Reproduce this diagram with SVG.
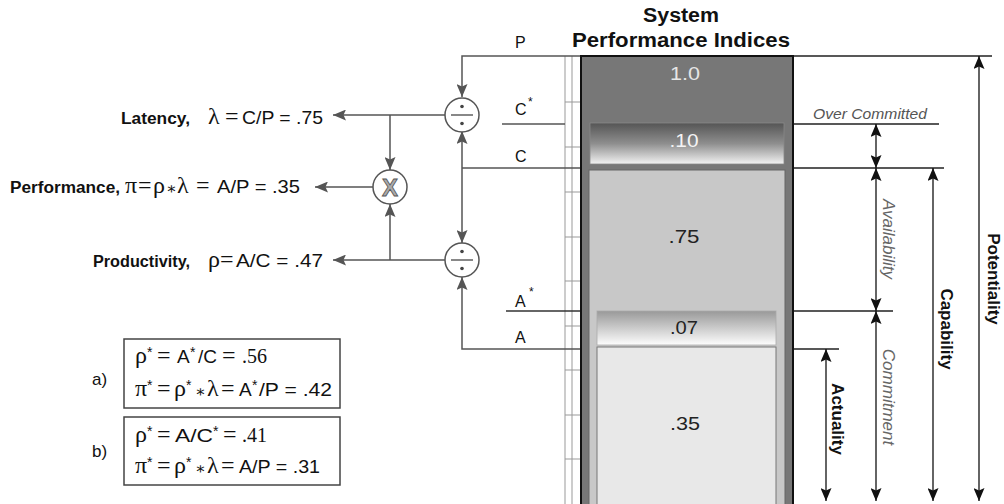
<svg xmlns="http://www.w3.org/2000/svg" width="1004" height="504" viewBox="0 0 1004 504">
<defs>
<style>
.lbl{font-family:"Liberation Sans",Arial,sans-serif;font-weight:bold;font-size:16px;fill:#111}
.eq{font-family:"Liberation Sans",Arial,sans-serif;font-size:19px;fill:#111}
.gr{font-family:"Liberation Serif","Times New Roman",serif;font-size:24px;fill:#111}
.op{font-family:"Liberation Serif","DejaVu Serif","Times New Roman",serif;font-size:16px;fill:#111}
.sup{font-family:"Liberation Sans",Arial,sans-serif;font-size:14px;fill:#111}
.sm{font-family:"Liberation Sans",Arial,sans-serif;font-size:16px;fill:#111}
.conn{fill:none;stroke:#555;stroke-width:1.5}
.dim{fill:none;stroke:#111;stroke-width:1.3}
.ext{fill:none;stroke:#222;stroke-width:1.3}
.node{fill:#fff;stroke:#555;stroke-width:1.5}
.vt{font-family:"Liberation Sans",Arial,sans-serif;font-size:17px;font-weight:bold;fill:#111}
.vi{font-family:"Liberation Sans",Arial,sans-serif;font-size:17px;font-style:italic;fill:#666}
.num{font-family:"Liberation Sans",Arial,sans-serif;font-size:19px;text-anchor:middle}
.ruler{fill:none;stroke:#999;stroke-width:1}
.box{fill:#fff;stroke:#444;stroke-width:1.5}
</style>
<marker id="ag" viewBox="0 0 13 11" refX="13" refY="5.5" markerWidth="13" markerHeight="11" markerUnits="userSpaceOnUse" orient="auto-start-reverse">
<path d="M0,0 L13,5.5 L0,11 L2.5,5.5 z" fill="#555"/>
</marker>
<marker id="ab" viewBox="0 0 13 11" refX="13" refY="5.5" markerWidth="13" markerHeight="11" markerUnits="userSpaceOnUse" orient="auto-start-reverse">
<path d="M0,0 L13,5.5 L0,11 L2.5,5.5 z" fill="#111"/>
</marker>
<linearGradient id="g10" x1="0" y1="0" x2="0" y2="1">
<stop offset="0" stop-color="#555"/>
<stop offset="0.5" stop-color="#8e8e8e"/>
<stop offset="1" stop-color="#f2f2f2"/>
</linearGradient>
<linearGradient id="g07" x1="0" y1="0" x2="0" y2="1">
<stop offset="0" stop-color="#999"/>
<stop offset="1" stop-color="#fdfdfd"/>
</linearGradient>
</defs>

<rect width="1004" height="504" fill="#fff"/>

<!-- Column -->
<g id="column">
<rect x="581" y="56" width="212" height="460" fill="#777" stroke="#111" stroke-width="2"/>
<rect x="590" y="123" width="194" height="41" fill="url(#g10)" stroke="#888" stroke-width="0.8"/>
<rect x="589" y="170" width="196" height="350" fill="#c8c8c8" stroke="#666" stroke-width="1"/>
<rect x="597" y="311" width="179" height="34" fill="url(#g07)" stroke="#aaa" stroke-width="0.8"/>
<rect x="597" y="347" width="179" height="170" fill="#e8e8e8" stroke="#777" stroke-width="1"/>
<text class="num" x="685" y="80" fill="#e6e6e6" textLength="30" lengthAdjust="spacingAndGlyphs">1.0</text>
<text class="num" x="684" y="147" fill="#f4f4f4" textLength="29" lengthAdjust="spacingAndGlyphs">.10</text>
<text class="num" x="684" y="243" fill="#222" textLength="31" lengthAdjust="spacingAndGlyphs">.75</text>
<text class="num" x="684" y="334" fill="#222" textLength="28" lengthAdjust="spacingAndGlyphs">.07</text>
<text class="num" x="685" y="430" fill="#222" textLength="30" lengthAdjust="spacingAndGlyphs">.35</text>
</g>

<!-- Ruler -->
<g id="ruler" class="ruler">
<path d="M565,56 V504 M572,56 V504"/>
<path d="M565,102 H580 M565,147 H580 M565,192 H580 M565,237 H580 M565,281 H580 M565,326 H580 M565,370 H580 M565,415 H580 M565,459 H580"/>
</g>

<!-- Title -->
<g id="title">
<text class="lbl" x="681" y="22" text-anchor="middle" style="font-size:20px" textLength="76" lengthAdjust="spacingAndGlyphs">System</text>
<text class="lbl" x="681" y="47" text-anchor="middle" style="font-size:20px" textLength="218" lengthAdjust="spacingAndGlyphs">Performance Indices</text>
</g>

<!-- Level labels -->
<g id="levels">
<text class="sm" x="515" y="48">P</text>
<text class="sm" x="515" y="115">C</text>
<text class="sup" x="528" y="106" style="font-size:12px">*</text>
<text class="sm" x="515" y="162">C</text>
<text class="sm" x="515" y="307">A</text>
<text class="sup" x="529" y="296" style="font-size:12px">*</text>
<text class="sm" x="515" y="343">A</text>
</g>

<!-- Connectors -->
<g id="connectors">
<path class="conn" d="M580,56 H462 V97" marker-end="url(#ag)"/>
<path class="conn" d="M580,168 H462"/>
<path class="conn" d="M462,168 V131" marker-end="url(#ag)"/>
<path class="conn" d="M462,168 V243" marker-end="url(#ag)"/>
<path class="conn" d="M580,349 H462 V277" marker-end="url(#ag)"/>
<path class="conn" d="M565,124 H502"/>
<path class="conn" d="M580,311 H506" style="stroke:#333"/>
<path class="conn" d="M445,115 H333" marker-end="url(#ag)"/>
<path class="conn" d="M390,115 V170" marker-end="url(#ag)"/>
<path class="conn" d="M373,187 H315" marker-end="url(#ag)"/>
<path class="conn" d="M445,260 H333" marker-end="url(#ag)"/>
<path class="conn" d="M390,260 V204" marker-end="url(#ag)"/>
<path class="ext" d="M794,56 H992 M794,124 H939 M794,168 H944 M794,311 H893 M794,349 H839"/>
<path class="dim" d="M876,124 V168" marker-start="url(#ab)" marker-end="url(#ab)"/>
<path class="dim" d="M876,168 V311" marker-start="url(#ab)" marker-end="url(#ab)"/>
<path class="dim" d="M876,311 V501" marker-start="url(#ab)" marker-end="url(#ab)"/>
<path class="dim" d="M933,168 V501" marker-start="url(#ab)" marker-end="url(#ab)"/>
<path class="dim" d="M979,56 V501" marker-start="url(#ab)" marker-end="url(#ab)"/>
<path class="dim" d="M826,349 V501" marker-start="url(#ab)" marker-end="url(#ab)"/>
</g>

<!-- Operator nodes -->
<g id="div1">
<circle class="node" cx="462" cy="115" r="17"/>
<path d="M451,115 H473" stroke="#555" stroke-width="1.4"/>
<circle cx="462" cy="106.5" r="1.8" fill="#444"/>
<circle cx="462" cy="123.5" r="1.8" fill="#444"/>
</g>
<g id="div2">
<circle class="node" cx="462" cy="260" r="17"/>
<path d="M451,260 H473" stroke="#555" stroke-width="1.4"/>
<circle cx="462" cy="251.5" r="1.8" fill="#444"/>
<circle cx="462" cy="268.5" r="1.8" fill="#444"/>
</g>
<g id="mult">
<circle class="node" cx="390" cy="187" r="17"/>
<text x="390" y="196" text-anchor="middle" font-family="Liberation Sans, Arial, sans-serif" font-weight="bold" font-size="24" fill="#aaa" stroke="#555" stroke-width="0.8">X</text>
</g>

<!-- Output labels -->
<g id="latency">
<text class="lbl" x="121" y="124" textLength="69" lengthAdjust="spacingAndGlyphs">Latency,</text>
<text class="gr" x="208" y="124">λ</text>
<text class="gr" x="225" y="124">=</text>
<text class="eq" x="242" y="124" textLength="81" lengthAdjust="spacingAndGlyphs">C/P = .75</text>
</g>
<g id="performance">
<text class="lbl" x="10" y="193" textLength="110" lengthAdjust="spacingAndGlyphs">Performance,</text>
<text class="gr" x="125" y="193">π</text>
<text class="gr" x="138" y="193">=</text>
<text class="gr" x="153" y="193">ρ</text>
<text class="op" x="166" y="194">∗</text>
<text class="gr" x="177" y="193">λ</text>
<text class="gr" x="196" y="193">=</text>
<text class="eq" x="217" y="193" textLength="83" lengthAdjust="spacingAndGlyphs">A/P = .35</text>
</g>
<g id="productivity">
<text class="lbl" x="93" y="267" textLength="97" lengthAdjust="spacingAndGlyphs">Productivity,</text>
<text class="gr" x="208" y="267">ρ</text>
<text class="gr" x="220" y="267">=</text>
<text class="eq" x="236" y="267" textLength="87" lengthAdjust="spacingAndGlyphs">A/C = .47</text>
</g>

<!-- Variant boxes -->
<g id="variant-a">
<text class="sm" x="92" y="385" style="font-size:17px">a)</text>
<rect class="box" x="124" y="339" width="216" height="69"/>
<text class="gr" x="135" y="363">ρ</text>
<text class="sup" x="147" y="357">*</text>
<text class="gr" x="157" y="363">=</text>
<text class="eq" x="177" y="363">A</text>
<text class="sup" x="190" y="357">*</text>
<text class="eq" x="198" y="363">/C</text>
<text class="gr" x="222" y="363">=</text>
<text class="gr" x="242" y="363" style="font-size:20px">.56</text>
<text class="gr" x="135" y="396">π</text>
<text class="sup" x="147" y="390">*</text>
<text class="gr" x="157" y="396">=</text>
<text class="gr" x="174" y="396">ρ</text>
<text class="sup" x="186" y="390">*</text>
<text class="op" x="195" y="397">∗</text>
<text class="gr" x="207" y="396">λ</text>
<text class="gr" x="221" y="396">=</text>
<text class="eq" x="239" y="396">A</text>
<text class="sup" x="252" y="390">*</text>
<text class="eq" x="259" y="396" textLength="73" lengthAdjust="spacingAndGlyphs">/P = .42</text>
</g>
<g id="variant-b">
<text class="sm" x="92" y="457" style="font-size:17px">b)</text>
<rect class="box" x="124" y="417" width="216" height="68"/>
<text class="gr" x="135" y="442">ρ</text>
<text class="sup" x="147" y="436">*</text>
<text class="gr" x="157" y="442">=</text>
<text class="eq" x="175" y="442" textLength="38" lengthAdjust="spacingAndGlyphs">A/C</text>
<text class="sup" x="213" y="436">*</text>
<text class="gr" x="223" y="442">=</text>
<text class="gr" x="242" y="442" style="font-size:20px">.41</text>
<text class="gr" x="135" y="473">π</text>
<text class="sup" x="147" y="467">*</text>
<text class="gr" x="157" y="473">=</text>
<text class="gr" x="174" y="473">ρ</text>
<text class="sup" x="186" y="467">*</text>
<text class="op" x="195" y="474">∗</text>
<text class="gr" x="207" y="473">λ</text>
<text class="gr" x="221" y="473">=</text>
<text class="eq" x="239" y="473" textLength="81" lengthAdjust="spacingAndGlyphs">A/P = .31</text>
</g>

<!-- Dimension labels -->
<g id="dimension-labels">
<text class="sm" x="813" y="119" style="font-size:15px;font-style:italic;fill:#555" textLength="114" lengthAdjust="spacingAndGlyphs">Over Committed</text>
<text class="vi" transform="translate(883,239) rotate(90)" text-anchor="middle">Availability</text>
<text class="vi" transform="translate(883,397) rotate(90)" text-anchor="middle">Commitment</text>
<text class="vt" transform="translate(831.5,419) rotate(90)" text-anchor="middle">Actuality</text>
<text class="vt" transform="translate(940.5,329) rotate(90)" text-anchor="middle">Capability</text>
<text class="vt" transform="translate(987.5,279) rotate(90)" text-anchor="middle">Potentiality</text>
</g>
</svg>
